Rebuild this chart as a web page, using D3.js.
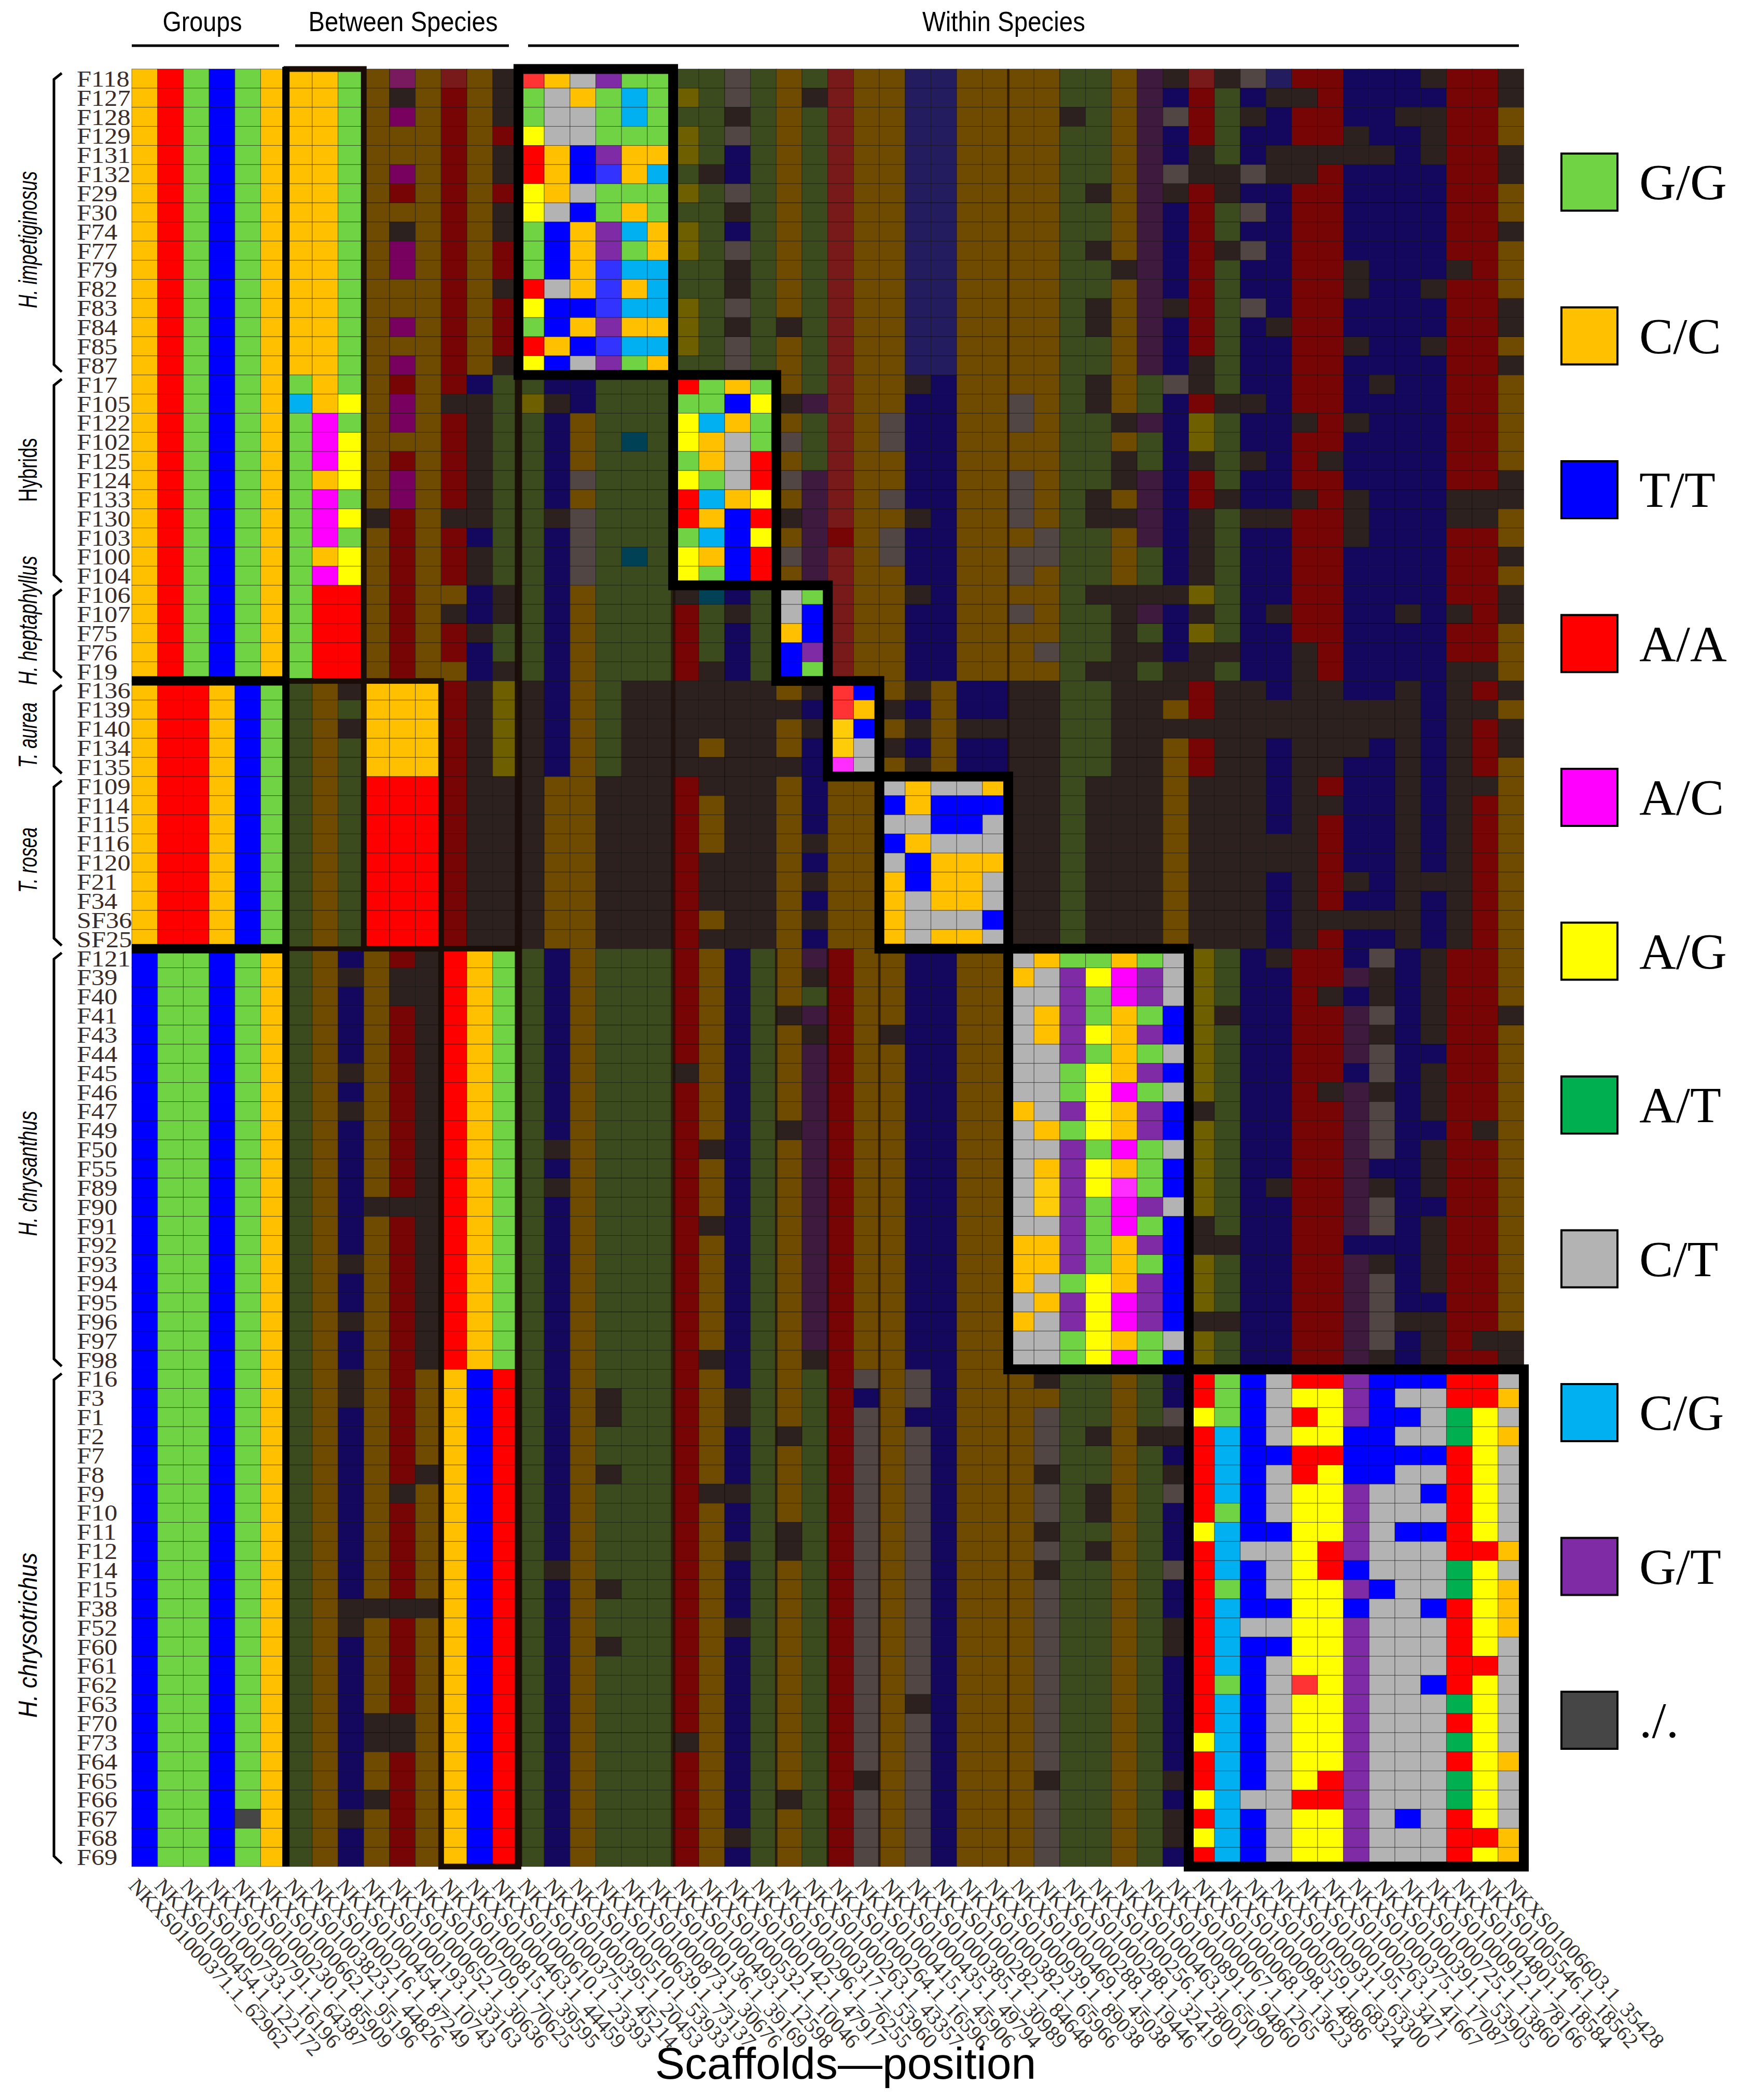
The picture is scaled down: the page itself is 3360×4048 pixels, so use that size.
<!DOCTYPE html>
<html>
<head>
<meta charset="utf-8">
<style>
body, html {
	margin: 0;
	background: #fff;
}
svg {
	display: block;
}
</style>
</head>
<body>
<div id="chartContainer"></div>

<script src="https://cdn.jsdelivr.net/npm/d3@7/dist/d3.min.js"></script>
<script>

// sample names, top to bottom
const samples = [
	"F118","F127","F128","F129","F131","F132","F29","F30","F74","F77","F79","F82","F83","F84","F85","F87",
	"F17","F105","F122","F102","F125","F124","F133","F130","F103","F100","F104",
	"F106","F107","F75","F76","F19",
	"F136","F139","F140","F134","F135",
	"F109","F114","F115","F116","F120","F21","F34","SF36","SF25",
	"F121","F39","F40","F41","F43","F44","F45","F46","F47","F49","F50","F55","F89","F90","F91","F92","F93","F94","F95","F96","F97","F98",
	"F16","F3","F1","F2","F7","F8","F9","F10","F11","F12","F14","F15","F38","F52","F60","F61","F62","F63","F70","F73","F64","F65","F66","F67","F68","F69"
];

const scaffolds = [
	"NKXS01000371.1_62962","NKXS01000454.1_122172","NKXS01000733.1_16196","NKXS01000791.1_64387","NKXS01000230.1_85909","NKXS01000662.1_95196",
	"NKXS01003823.1_44826","NKXS01000216.1_87249","NKXS01000454.1_10743","NKXS01000193.1_33163","NKXS01000652.1_30636","NKXS01000709.1_70625",
	"NKXS01000815.1_39595","NKXS01000463.1_44459","NKXS01000610.1_23393","NKXS01000375.1_45214","NKXS01000395.1_20453","NKXS01000510.1_53933",
	"NKXS01000639.1_73137","NKXS01000873.1_30676","NKXS01000136.1_39169","NKXS01000493.1_12598","NKXS01000532.1_10046","NKXS01000142.1_47917",
	"NKXS01000296.1_76255","NKXS01000317.1_53960","NKXS01000263.1_43357","NKXS01000264.1_16596","NKXS01000415.1_45906","NKXS01000435.1_49794",
	"NKXS01000385.1_30989","NKXS01000282.1_84648","NKXS01000382.1_65966","NKXS01000939.1_89038","NKXS01000469.1_45038","NKXS01000288.1_19446",
	"NKXS01000288.1_32419","NKXS01000256.1_28001","NKXS01000463.1_65090","NKXS01000891.1_94860","NKXS01000067.1_1265","NKXS01000068.1_13623",
	"NKXS01000098.1_4886","NKXS01000559.1_68324","NKXS01000931.1_63300","NKXS01000195.1_3471","NKXS01000263.1_41667","NKXS01000375.1_17087",
	"NKXS01000391.1_53905","NKXS01000725.1_13860","NKXS01000912.1_78166","NKXS01004801.1_18584","NKXS01005546.1_18562","NKXS01006603.1_35428"
];

// one string per sample, one letter per scaffold, spaces only mark the blocks
// lower case = the slightly paler cells of the same genotype
const genotypes = [
	"CAGTGC CCG CmC aCN aCYKGG GGYG CG aC CttCC CCGGCKN aNYtAATTTNAAN",
	"CAGTGC CCG CNC ACN GYCGSG RGYG CN aC CttCC CCGGCKT AGTNNATTTTAAN",
	"CAGTGC CCG CMC ACN GYYGSG GGNG CG aC CttCC CCNGCKY AGNTAATTNNAAC",
	"CAGTGC CCG CCC ACA RYYGGG RGYG CG aC CttCC CCGGCKT AGTTAANTTNAAC",
	"CAGTGC CCG CCC ACN ACTKCC RGTG CG aC CttCC CCGGCKT NGTNNNNNTNAAN",
	"CAGTGC CCG CMC ACN ACTtCS GNTG CG aC CttCC CCGGCKY NNYNNATTTTAAN",
	"CAGTGC CCG CAC ACA RCYGGG RGYG CG aC CttCC CCGNCKN ANTTAATTTTAAC",
	"CAGTGC CCG CCC ACN RYTGCG GGNG CG aC CttCC CCGGCKT AGYTAATTTTAAC",
	"CAGTGC CCG CNC ACN GTCKSC RGTG CG aC CttCC CCGGCKT AGTTAATTTTAAN",
	"CAGTGC CCG CMC ACA GTCKGC RGYG CG aC CttCC CCGNCKT ANYTAATTTTAAC",
	"CAGTGC CCG CMC ACA GTCtSS GGNG CG aC CttCC CCGGNKT AGTTAANTTTNAC",
	"CAGTGC CCG CCC ACN AYCtCS GGNG CG aC CttCC CCGGCKT AGTTAANTTNAAC",
	"CAGTGC CCG CCC ACA RTTtSS RGYG CG aC CttCC CCGNCKN AGYTAATTTTAAN",
	"CAGTGC CCG CMC ACA GTCKCC RGNG NG aC CttCC CCGNCKT AGTNAATTTTAAN",
	"CAGTGC CCG CCC ACA ACTtSS RGYG CG aC CttCC CCGGCKT AGTTAANTTNAAC",
	"CAGTGC CCG CMC ACN RTYKGC GGYG CG aC CttCC CCGGCKT NGTTAATTTTAAN",
	"CAGTGC GCG CAC ATG GTTGGG AGCG CG aC CNTCC CCGNCGY NGTTAATNTTAAC",
	"CAGTGC SCR CMC NNG RNTGGG GGTR NK aC CTTCC YCGNCGT ANNTAATTTTAAC",
	"CAGTGC GMG CMC ANG GTCGGG RSCG CG aC YTTCC YCGGNKT RGTTNANTTTAAC",
	"CAGTGC GMR CCC ANG GTCGSG RCYG YG aC YTTCC CCGGCGT RGTTAATTTTAAC",
	"CAGTGC GMR CAC ANG GTCGGG GCYA CG aC CTTCC CCGGNGT NGNTANTTTTAAC",
	"CAGTGC GCR CMC ANG GTYGGG RGYA YK aC CTTCC YCGGNKT AGTTAATTTTAAN",
	"CAGTGC GMG CMC ANG GTCGGG ASCR CK aC YTTCC YCGNCKT ANTTNANTTTNNN",
	"CAGTGC GMR NAC NNG GNYGGG ACTA NK aC CNTCC YCGNNKT NGNNAANTTTNNC",
	"CAGTGC GMG CAC ATG GTYGGG GSTR CK AC YTTCC CYGGCKT NGTTAANTTTAAC",
	"CAGTGC GCR CAC ANG GTYGSG RCTA YK aC YTTCC YYGGCGT NGTTAATTTTAAN",
	"CAGTGC GMR CAC ANG GTYGGG RGTA CK aC CTTCC YCGGCGT NGTTAATTTTAAC",
	"CAGTGC GAA CAC CTN GTCGGG NSTG YG aC CNTCC CCGNNNN RGTTAATTTTAAN",
	"CAGTGC GAA CAC NTN GTCGGG AGNG YT aC CTTCC YCGGNKT NGTNAATTNTNAN",
	"CAGTGC GAA CAC ANG GTCGGG AGTG CT aC CTTCC CCGGNGT RGTTAATTTTAAC",
	"CAGTGC GAA CAC ATG GTCGGG AGTG TK aC CTTCC CYGGNNT NNTTNATTTTAAC",
	"CAGTGC GAA CAC CTN GTCGGG ANTG TG aC CTTCC CCGNNGN NGTTNATTTTNNC",
	"CAACTG GCN CCC ANR NTCGNN NNNN CN aT CNCTT NNGGNNN ANNTNNTTNTNAN",
	"CAACTG GCG CCC ANR NTCGNN NNNN NT aC NTCTT NNGGNNC ANNNNNNNNTNNC",
	"CAACTG GCN CCC ANR NTCGNN NNNN CN cT CNCNN NNGGNNN NNNNNNNNNTNAN",
	"CAACTG GCG CCC ANR NTCGNN NCNN CT cY NTCTT NNGGNNC ANNTNNNTNTNAN",
	"CAACTG GCG CCC ANR NTCGNN NNNN NT mY CNCTT NNGGNNC ANNTNNTTNTNAC",
	"CAACTG GCG AAA ANN NCCNNN ANNN CT CC YCYYC NNGNNNC NNNTNATTNTNNC",
	"CAACTG GCG AAA ANN NCCNNN ACNN CT CC TCTTT NNGNNNC NNNTNNTTNTNAC",
	"CAACTG GCG AAA ANN NCCNNN ACNN CT CC YYTTY NNGNNNC NNNTNATTNTNAC",
	"CAACTG GCG AAA ANN NCCNNN ACNN CN CC TCYYY NNGNNNC NNNNNATTNTNAC",
	"CAACTG GCG AAA ANN NCCNNN ANNN CT CC YTCCC NNGNNNC NNNNNATTNTNAC",
	"CAACTG GCG AAA ANN NCCNNN ANNN CN CC CTCCY NNGNNNC NNNTNANTNNNAC",
	"CAACTG GCG AAA ANN NCCNNN ANNN CT CC CYCCY NNGNNNC NNNTNATTNTNAC",
	"CAACTG GCG AAA ANN NCCNNN ACNN CN CC CYYYT NNGNNNC NNNTNNNNNTNAC",
	"CAACTG GCG AAA ANN NCCNNN ANNN CT CC CYCCY NNGNNNC NNNTNATTNTNAC",
	"TGGTGC GCT CAN ACG GTCGGG ACTG CK AC CTTCC YCGGCGY RGTNAATYTNAAC",
	"TGGTGC GCN CNN ACG GTCGGG ACTG CN AC CTTCC CYKRMKY RGTTAAKNTNAAC",
	"TGGTGC GCT CNN ACG GTCGGG ACTG CG AC CTTCC YYKGMKY RGTTANTNTNAAC",
	"TGGTGC GCT CAN ACG GTCGGG ACTG NK AC CTTCC YCKGCGT RNTTAAKYTNAAN",
	"TGGTGC GCT CAN ACG GTCGGG ACTG CN AC NTTCC YCKRCKT RGTTAAKNTNAAC",
	"TGGTGC GCT CAN ACG GTCGGG ACTG CK AC CTTCC YYKGCGY RGTTAAKYTTAAC",
	"TGGTGC GCN CAN ACG GTCGGG NCTG CK AC CTTCC YYGRCKT RGTTAATYTNAAC",
	"TGGTGC GCT CAN ACG GTCGGG ACTG CK AC CTTCC YYGRMGY RGTTANKNTNAAC",
	"TGGTGC GCN CAN ACG GTCGGG ACTG CK AC CTTCC CYKRCKT NGTTAAKYTNAAC",
	"TGGTGC GCT CAN ACG GTCGGG ACTG NK AC CTTCC YCGRCKT RGTTAAKYTTANC",
	"TGGTGC GCT CAN ACG GNCGGG ANTG CK AC CTTCC YYKGMGY RGTTAAKYTNAAC",
	"TGGTGC GCT CAN ACG GTCGGG ACTG CK AC CTTCC YCKRCGT RGTTAAKTTNAAC",
	"TGGTGC GCT CAN ACG GNCGGG ACTG CK AC CTTCC YcKRmGT RGTNAAKNTNAAC",
	"TGGTGC GCT NNN ACG GTCGGG ACTG CK AC CTTCC YcKGMKY RGTTAAKYTTAAC",
	"TGGTGC GCT CAN ACG GTCGGG ANTG CK AC CTTCC YYKGMGT NGTTAAKYTNAAC",
	"TGGTGC GCT CAN ACG GTCGGG ACTG CK AC CTTCC CCKGCKT NNTTAATTTNAAC",
	"TGGTGC GCN CAN ACG GTCGGG ACTG CK AC CTTCC CCKGCGT RGTTAAKNTNAAC",
	"TGGTGC GCT CAN ACG GTCGGG ACTG CK AC CTTCC CYGRCKT RGTTAAKYTNAAC",
	"TGGTGC GCT CAN ACG GTCGGG ACTG CK AC CTTCC YCKRMKT RGTTAAKYTTAAC",
	"TGGTGC GCN CAN ACG GTCGGG ACTG CK AC CTTCC CYKRMKT NNTTAAKYNNAAC",
	"TGGTGC GCT CAN ACG GTCGGG ACTG CK AC CTTCC YYGRCGY RGTTAAKYTNANN",
	"TGGTGC GCT CAN ACG GTCGGG ANTG CN AC CTTCC YYGRMGT RGTTAAKNTNAAN",
	"TGGTGC GCN CAC CTA GTCGGG ACTG CG AY CYTCC CNGGCGT AGTYAAKTTTAAY",
	"TGGTGC GCN CAC CTA GTCNGG ACNG CG AT CYTCC CCGGCGT AGTYRRKTYYAAC",
	"TGGTGC GCT CAC CTA GTCNGG ACNG CG AY CTTCC CYGGCGY RGTYARKTTYWRY",
	"TGGTGC GCT CAC CTA GTCGGG ACTG NG AY CYTCC CYGNCNN ASTYRRTTYYWRC",
	"TGGTGC GCT CAC CTA GTCGGG ACTG CG AY CYTCC CYGGCGT ASTTAATTTTARY",
	"TGGTGC GCT CAN CTA GTCNGG ACTG CG AY CYTCC CNGGCGN ASTYARTTYYARY",
	"TGGTGC GCT CNC CTA GTCGGG ANNG CG AY CYTCC CYGNCGY ASTYRRKYYTARY",
	"TGGTGC GCT CAC CTA GTCGGG ACTG CG AY CYTCC CYGNCGT AGTYRRKYYYARY",
	"TGGTGC GCT CAC CTA GTCGGG ACTG NG AY CYTCC CNGGCGT RSTTRRKYTTARY",
	"TGGTGC GCT CAC CTA GTCGGG ACNG NG AY CYTCC CYGNCGT ASYYRAKYYYAAC",
	"TGGTGC GCT CAC CTA GNCGGG ACTG CG AY CYTCC CNGGCGY ASTYRATYYYWRY",
	"TGGTGC GCT CAC CTA GTCNGG ACTG CG AY CYTCC CYGGCGT AGTYRRKTYYWRC",
	"TGGTGC GCN NNN CTA GTCGGG ACTG CG AY CYTCC CYGGCGT ASTTRRTYYTARC",
	"TGGTGC GCN CAC CTA GTCGGG ACNG CG AY CYTCC CYGGCGN ASYYRRKYYYARC",
	"TGGTGC GCT CAC CTA GTCNGG ACTG CG AY CYTCC CYGGCGN ASTTRRKYYYARY",
	"TGGTGC GCT CAC CTA GTCGGG ACTG CG AY CYTCC CYGGCGT ASTYRRKYYYAAY",
	"TGGTGC GCT CAC CTA GTCGGG ACTG CG AY CYTCC CYGGCGT AGTYaRKYYTARY",
	"TGGTGC GCT CAC CTA GTCGGG ACTG CG AY CNTCC CYGGCGT ASTYRRKYYYWRY",
	"TGGTGC GCT NNC CTA GTCGGG ACTG CG AY CYTCC CYGGCGT ASTYRRKYYYARY",
	"TGGTGC GCT NNC CTA GTCGGG NCTG CG AY CYTCC CYGGCGT RSTYRRKYYYWRY",
	"TGGTGC GCT CAC CTA GTCGGG ACTG CG AY CYTCC CYGGCGT ASTYRRKYYYARC",
	"TGGTGC GCT CAC CTA GTCGGG ACTG CG AN CYTCC CNGGCGN ASTYRAKYYYWRY",
	"TGGTGC GCT NAC CTA GTCGGG ACTG NG AY CYTCC CYGGCGT RSYYAAKYYYWRY",
	"TGGTNC GCN CAC CTA GTCGGG ACTG CG AY CYTCC CYGGCGN ASTYRRKYTYARY",
	"TGGTGC GCT CAC CTA GTCGGG ACNG CG AY CYTCC CYGGCGN RSTYRRKYYYAAC",
	"TGGTGC GCT CAC CTA GTCGGG ACTG CG AY CYTCC CYGGCGT ASTYRRKYYYARC"
].map(function(d) { return d.replace(/ /g, ""); });

const speciesNames = ["H. impetiginosus","Hybrids","H. heptaphyllus","T. aurea","T. rosea","H. chrysanthus","H. chrysotrichus"];
const speciesStart = ["F118","F17","F106","F136","F109","F121","F16"];
const speciesEnd = ["F87","F104","F19","F135","SF25","F98","F69"];

const legendLabels = ["G/G","C/C","T/T","A/A","A/C","A/G","A/T","C/T","C/G","G/T","./."];
const legendCodes = ["G","C","T","A","M","R","W","Y","S","K","N"];

const headerLabels = ["Groups","Between Species","Within Species"];

// scaffold block [first, last] and sample block [first, last] shown at full colour
const withinBoxes = [[15,20,0,15],[21,24,16,26],[25,26,27,31],[27,28,32,36],[29,33,37,45],[34,40,46,67],[41,53,68,93]];
const betweenBoxes = [[6,8,0,31],[9,11,32,45],[12,14,46,93]];

const BRIGHT = {G:"#6fd343",C:"#ffc000",T:"#0000ff",A:"#ff0000",M:"#ff00ff",R:"#ffff00",W:"#00b050",Y:"#b3b3b3",S:"#00b0f0",K:"#7f2ba5",N:"#464646",
	a:"#ff3333",t:"#3333ff",c:"#ffcc0a",m:"#ff2dff"};
const DIM = {G:"#3c4b1e",C:"#6e4b00",T:"#14085e",A:"#780505",M:"#78005f",R:"#6e5f00",W:"#004e24",Y:"#514644",S:"#004155",K:"#3e1a3e",N:"#2c211e",
	a:"#781a1a",t:"#231c5e",c:"#6e5214",m:"#7a1a5e"};

const WIDTH = 3360;
const HEIGHT = 4048;
const BOX_DARK = "#1a0d08";

var svg = d3.select("#chartContainer").append("svg")
	.attr("width", WIDTH)
	.attr("height", HEIGHT);

var x = d3.scaleBand().domain(d3.range(scaffolds.length)).range([254, 2937.5]);
var y = d3.scaleBand().domain(samples).range([133, 3598]);
var labelX = d3.scalePoint().domain(d3.range(scaffolds.length)).range([246, 2898]);
var legendY = d3.scalePoint().domain(legendLabels).range([351, 3316]);

function isBright(r, c) {
	if (c < 6) return true;
	return withinBoxes.concat(betweenBoxes).some(function(b) {
		return c >= b[0] && c <= b[1] && r >= b[2] && r <= b[3];
	});
}

var cells = [];
genotypes.forEach(function(g, r) {
	g.split("").forEach(function(code, c) {
		cells.push({r: r, c: c, code: code});
	});
});

svg.append("g").attr("class", "cells")
	.selectAll("rect")
	.data(cells)
	.enter().append("rect")
		.attr("x", function(d) { return x(d.c); })
		.attr("y", function(d) { return y(samples[d.r]); })
		.attr("width", x.bandwidth())
		.attr("height", y.bandwidth())
		.attr("fill", function(d) { return isBright(d.r, d.c) ? BRIGHT[d.code] : DIM[d.code]; })
		.attr("stroke", "#000")
		.attr("stroke-opacity", 0.5)
		.attr("stroke-width", 1);

// faint dark dividers between the scaffold blocks
var dividers = [[21,16,93],[25,46,93],[27,46,93],[29,46,93],[34,0,37],[34,68,93],[15,16,93]];
svg.append("g").attr("class", "dividers")
	.selectAll("line")
	.data(dividers)
	.enter().append("line")
		.attr("x1", function(d) { return x(d[0]); })
		.attr("x2", function(d) { return x(d[0]); })
		.attr("y1", function(d) { return y(samples[d[1]]); })
		.attr("y2", function(d) { return y(samples[d[2]]) + y.bandwidth(); })
		.attr("stroke", BOX_DARK)
		.attr("stroke-width", function(d) { return d[0] == 15 ? 14 : d[0] == 21 ? 9 : 5; })
		.attr("stroke-opacity", function(d) { return d[0] == 15 ? 0.95 : 0.65; });

function boxRect(sel, boxes, color, width) {
	sel.selectAll("rect")
		.data(boxes)
		.enter().append("rect")
			.attr("x", function(d) { return x(d[0]); })
			.attr("y", function(d) { return y(samples[d[2]]); })
			.attr("width", function(d) { return x(d[1]) + x.bandwidth() - x(d[0]); })
			.attr("height", function(d) { return y(samples[d[3]]) + y.bandwidth() - y(samples[d[2]]); })
			.attr("fill", "none")
			.attr("stroke", color)
			.attr("stroke-width", width);
}

boxRect(svg.append("g").attr("class", "between"), betweenBoxes, BOX_DARK, 11);

// black rules that set off the three group patterns and the first block
var groupRules = ["F136","F121"];
svg.append("g").attr("class", "groupRules")
	.selectAll("line")
	.data(groupRules)
	.enter().append("line")
		.attr("x1", x(0))
		.attr("x2", x(6))
		.attr("y1", function(d) { return y(d); })
		.attr("y2", function(d) { return y(d); })
		.attr("stroke", "#000")
		.attr("stroke-width", 18);
svg.append("line")
	.attr("x1", x(6))
	.attr("x2", x(12))
	.attr("y1", y("F121"))
	.attr("y2", y("F121"))
	.attr("stroke", BOX_DARK)
	.attr("stroke-width", 9);
svg.append("line")
	.attr("x1", x(6) - 1)
	.attr("x2", x(6) - 1)
	.attr("y1", y("F118") - 4)
	.attr("y2", y("F69") + y.bandwidth())
	.attr("stroke", "#000")
	.attr("stroke-width", 14);

boxRect(svg.append("g").attr("class", "within"), withinBoxes, "#000", 19);

// sample labels
svg.append("g").attr("class", "samples")
	.selectAll("text")
	.data(samples)
	.enter().append("text")
		.attr("transform", function(d) { return `translate(148,${y(d) + y.bandwidth() - 3}) scale(1.12,1)`; })
		.attr("font-family", "Liberation Serif")
		.attr("font-size", 45)
		.attr("fill", "#3a2c28")
		.text(function(d) { return d; });

// species brackets and names
var species = speciesNames.map(function(name, i) {
	return {name: name, top: y(speciesStart[i]) + 8, bottom: y(speciesEnd[i]) + y.bandwidth() - 6};
});
var speciesCenter = [462,906,1196,1417,1658,2262,3152];
var speciesLength = [264,123,249,126,126,241,318];

svg.append("g").attr("class", "brackets")
	.selectAll("path")
	.data(species)
	.enter().append("path")
		.attr("d", function(d) { return `M119,${d.top} L104,${d.top + 12} L104,${d.bottom - 14} L119,${d.bottom}`; })
		.attr("fill", "none")
		.attr("stroke", "#000")
		.attr("stroke-width", 5);

svg.append("g").attr("class", "speciesNames")
	.selectAll("text")
	.data(species)
	.enter().append("text")
		.attr("transform", function(d, i) { return `translate(71,${speciesCenter[i]}) rotate(-90)`; })
		.attr("text-anchor", "middle")
		.attr("font-family", "Liberation Sans")
		.attr("font-style", function(d) { return d.name == "Hybrids" ? "normal" : "italic"; })
		.attr("font-size", 50)
		.attr("textLength", function(d, i) { return speciesLength[i]; })
		.attr("lengthAdjust", "spacingAndGlyphs")
		.text(function(d) { return d.name; });

// header labels and their rules
var headerRules = [[254,538],[569,981],[1018,2928]];
var header = svg.append("g").attr("class", "header");
header.selectAll("line")
	.data(headerRules)
	.enter().append("line")
		.attr("x1", function(d) { return d[0]; })
		.attr("x2", function(d) { return d[1]; })
		.attr("y1", 88)
		.attr("y2", 88)
		.attr("stroke", "#000")
		.attr("stroke-width", 5);
var headerLength = [153,365,314];
var headerCenter = [390,777,1935];
header.selectAll("text")
	.data(headerLabels)
	.enter().append("text")
		.attr("x", function(d, i) { return headerCenter[i]; })
		.attr("y", 60)
		.attr("text-anchor", "middle")
		.attr("font-family", "Liberation Sans")
		.attr("font-size", 54)
		.attr("textLength", function(d, i) { return headerLength[i]; })
		.attr("lengthAdjust", "spacingAndGlyphs")
		.text(function(d) { return d; });

// scaffold labels
svg.append("g").attr("class", "scaffolds")
	.selectAll("text")
	.data(scaffolds)
	.enter().append("text")
		.attr("transform", function(d, i) { return `translate(${labelX(i)},3637) rotate(47)`; })
		.attr("font-family", "Liberation Serif")
		.attr("font-size", 41)
		.attr("fill", "#333")
		.text(function(d) { return d; });

svg.append("text")
	.attr("x", 1630)
	.attr("y", 4007)
	.attr("text-anchor", "middle")
	.attr("font-family", "Liberation Sans")
	.attr("font-size", 86)
	.text("Scaffolds\u2014position");

// legend
var legend = svg.append("g").attr("class", "legend")
	.selectAll("g")
	.data(legendLabels)
	.enter().append("g")
		.attr("transform", function(d) { return `translate(0,${legendY(d)})`; });
legend.append("rect")
	.attr("x", 3010)
	.attr("y", -55)
	.attr("width", 108)
	.attr("height", 110)
	.attr("fill", function(d, i) { return BRIGHT[legendCodes[i]]; })
	.attr("stroke", "#000")
	.attr("stroke-width", 4);
legend.append("text")
	.attr("x", 3160)
	.attr("y", 33)
	.attr("font-family", "Liberation Serif")
	.attr("font-size", 98)
	.text(function(d) { return d; });

</script>
</body>
</html>
